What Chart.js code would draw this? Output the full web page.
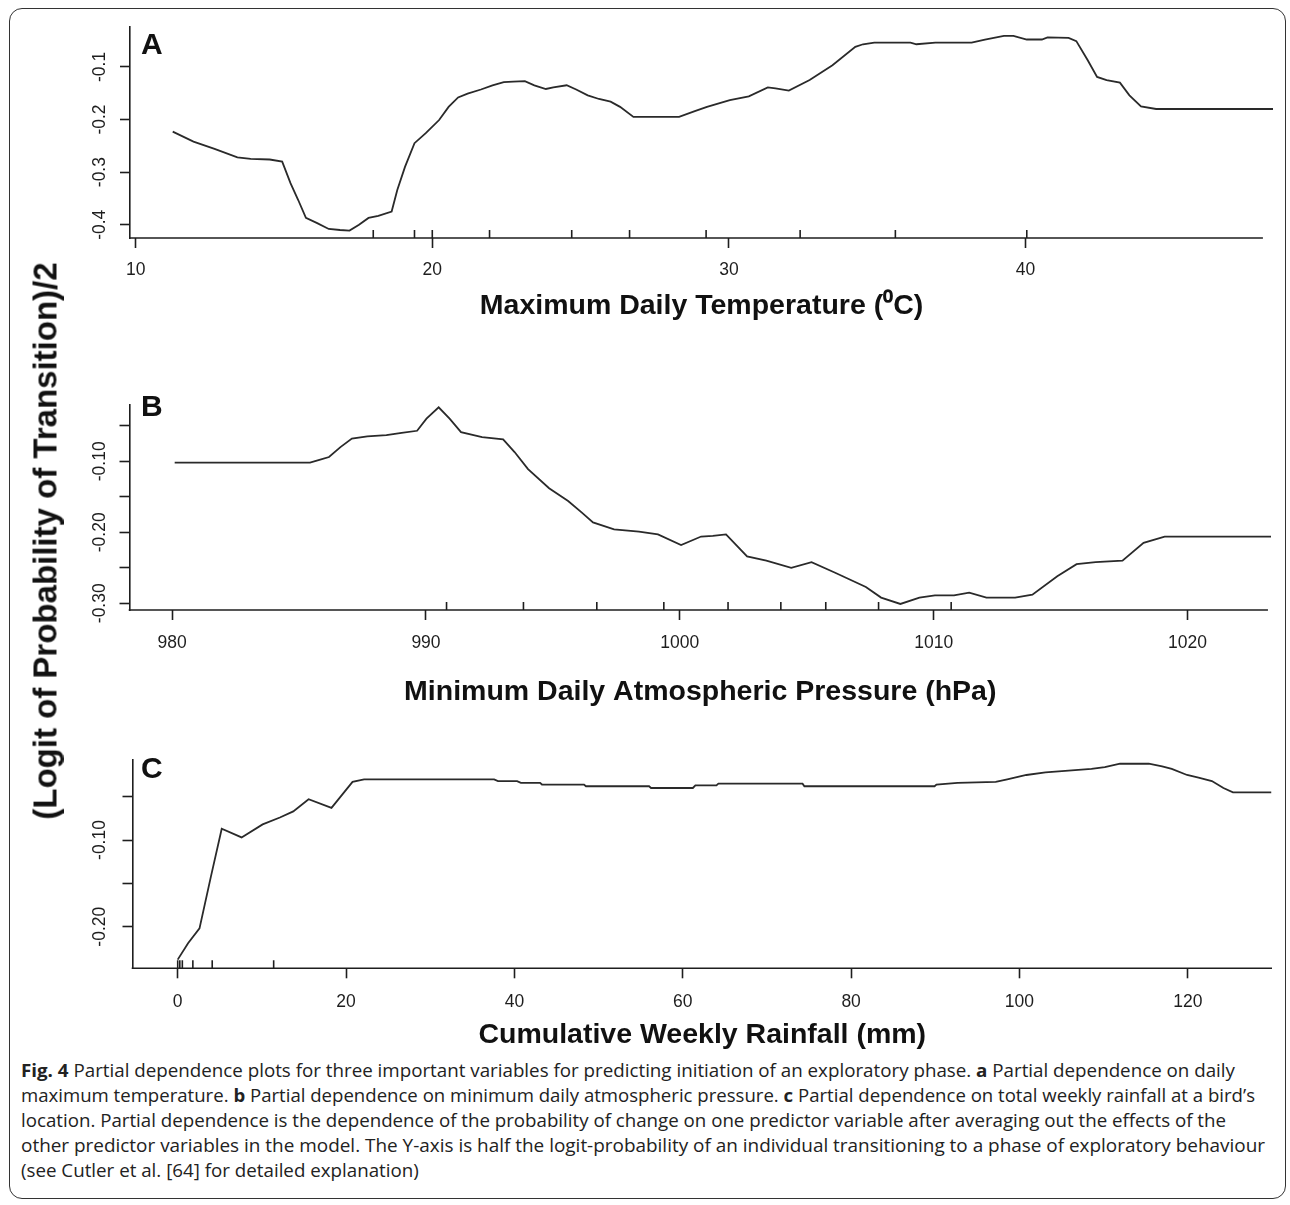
<!DOCTYPE html>
<html>
<head>
<meta charset="utf-8">
<script src="https://cdn.jsdelivr.net/npm/chart.js@4.4.1/dist/chart.umd.min.js"></script>
<style>
html,body{margin:0;padding:0;background:#fff;}
#page{position:relative;width:1290px;height:1205px;overflow:hidden;background:#fff;font-family:"Liberation Sans",Arial,sans-serif;}
#frame{position:absolute;left:9px;top:8px;width:1277px;height:1191px;border:1.6px solid #333;border-radius:13px;box-sizing:border-box;}
canvas{position:absolute;left:0;}
.plbl{position:absolute;font-weight:bold;font-size:30px;line-height:30px;color:#111;}
#ytitle{position:absolute;left:45px;top:541px;transform:translate(-50%,-50%) rotate(-90deg);white-space:nowrap;font-weight:bold;font-size:33px;line-height:33px;color:#111;}
#caption{position:absolute;left:21px;top:1058px;font-family:"Open Sans",sans-serif;font-size:18px;line-height:25px;color:#222;}
.cl{white-space:nowrap;transform-origin:0 0;width:max-content;}
.cl b{font-weight:700;}
</style>
</head>
<body>
<div id="page">
  <div id="frame"></div>
  <canvas id="cA"></canvas>
  <canvas id="cB"></canvas>
  <canvas id="cC"></canvas>
  <div class="plbl" style="left:141px;top:29px;">A</div>
  <div class="plbl" style="left:141px;top:391px;">B</div>
  <div class="plbl" style="left:141px;top:753px;">C</div>
  <div id="ytitle">(Logit of Probability of Transition)/2</div>
  <div id="caption">
    <div class="cl"><b>Fig. 4</b> Partial dependence plots for three important variables for predicting initiation of an exploratory phase. <b>a</b> Partial dependence on daily</div>
    <div class="cl">maximum temperature. <b>b</b> Partial dependence on minimum daily atmospheric pressure. <b>c</b> Partial dependence on total weekly rainfall at a bird’s</div>
    <div class="cl">location. Partial dependence is the dependence of the probability of change on one predictor variable after averaging out the effects of the</div>
    <div class="cl">other predictor variables in the model. The Y-axis is half the logit-probability of an individual transitioning to a phase of exploratory behaviour</div>
    <div class="cl">(see Cutler et al. [64] for detailed explanation)</div>
  </div>
</div>
<script>
// ---------------- DATA ----------------
// Panel A: Maximum daily temperature
const tempX = [11.25, 11.95, 12.66, 13.43, 13.88, 14.52, 14.94, 15.22, 15.48, 15.74, 16.12, 16.51, 16.89, 17.21, 17.53, 17.85, 18.18, 18.63, 18.82, 19.08, 19.40, 19.78, 20.23, 20.55, 20.87, 21.19, 21.64, 22.03, 22.41, 22.73, 23.12, 23.44, 23.83, 24.08, 24.53, 24.85, 25.24, 25.62, 26.01, 26.33, 26.78, 27.55, 28.32, 28.85, 29.26, 30.03, 30.67, 31.31, 31.57, 32.02, 32.72, 33.49, 34.26, 34.52, 34.90, 36.12, 36.32, 36.96, 38.18, 38.63, 39.27, 39.59, 40.04, 40.55, 40.74, 41.45, 41.71, 42.09, 42.41, 42.73, 43.18, 43.50, 43.89, 44.40, 48.34];
const tempY = [-0.223, -0.242, -0.256, -0.272, -0.275, -0.276, -0.280, -0.321, -0.353, -0.387, -0.397, -0.408, -0.410, -0.411, -0.400, -0.387, -0.383, -0.375, -0.334, -0.290, -0.245, -0.226, -0.201, -0.176, -0.158, -0.151, -0.143, -0.135, -0.129, -0.128, -0.127, -0.135, -0.142, -0.139, -0.135, -0.143, -0.154, -0.161, -0.166, -0.176, -0.195, -0.195, -0.195, -0.184, -0.176, -0.163, -0.156, -0.139, -0.141, -0.145, -0.125, -0.097, -0.062, -0.057, -0.054, -0.054, -0.057, -0.054, -0.054, -0.048, -0.041, -0.041, -0.048, -0.048, -0.044, -0.045, -0.051, -0.087, -0.119, -0.125, -0.130, -0.154, -0.175, -0.180, -0.180];
const tempRug = [18.01, 19.40, 20.0, 21.93, 24.70, 26.65, 29.23, 32.40, 35.61, 40.04];

// Panel B: Minimum daily atmospheric pressure
const presX = [980.1, 985.43, 985.80, 986.18, 986.63, 987.08, 987.69, 988.44, 989.04, 989.65, 990.02, 990.50, 990.93, 991.38, 992.21, 993.04, 993.49, 994.02, 994.85, 995.60, 996.13, 996.58, 997.41, 998.39, 999.14, 1000.05, 1000.84, 1001.30, 1001.82, 1002.65, 1003.41, 1004.39, 1005.19, 1006.12, 1007.33, 1007.93, 1008.69, 1009.44, 1010.05, 1010.80, 1011.40, 1012.08, 1013.21, 1013.89, 1014.87, 1015.63, 1016.38, 1017.44, 1018.27, 1019.10, 1023.29];
const presY = [-0.102, -0.102, -0.098, -0.094, -0.080, -0.068, -0.065, -0.063, -0.060, -0.057, -0.040, -0.024, -0.040, -0.059, -0.066, -0.069, -0.087, -0.111, -0.138, -0.156, -0.172, -0.186, -0.196, -0.199, -0.203, -0.218, -0.206, -0.205, -0.203, -0.234, -0.240, -0.250, -0.242, -0.257, -0.277, -0.292, -0.301, -0.292, -0.289, -0.289, -0.285, -0.292, -0.292, -0.288, -0.262, -0.245, -0.242, -0.240, -0.215, -0.206, -0.206];
const presRug = [990.81, 993.84, 996.73, 999.37, 1001.90, 1003.98, 1005.75, 1007.83, 1010.69];

// Panel C: Cumulative weekly rainfall
const rainX = [0, 1.23, 2.59, 3.95, 5.23, 7.59, 10.09, 12.14, 13.73, 15.55, 18.27, 20.77, 22.14, 37.59, 38.05, 40.32, 40.77, 43.05, 43.27, 48.27, 48.50, 56.00, 56.23, 61.2, 61.5, 64.0, 64.23, 74.23, 74.45, 89.91, 90.14, 92.64, 97.18, 98.55, 100.82, 103.09, 105.82, 108.55, 110.14, 111.95, 115.36, 116.95, 118.09, 119.91, 121.27, 122.86, 124.23, 125.36, 129.91];
const rainY = [-0.238, -0.219, -0.202, -0.142, -0.087, -0.097, -0.082, -0.074, -0.067, -0.053, -0.063, -0.033, -0.030, -0.030, -0.032, -0.032, -0.034, -0.034, -0.036, -0.036, -0.038, -0.038, -0.040, -0.040, -0.037, -0.037, -0.035, -0.035, -0.038, -0.038, -0.036, -0.034, -0.033, -0.030, -0.025, -0.022, -0.020, -0.018, -0.016, -0.012, -0.012, -0.015, -0.018, -0.025, -0.028, -0.032, -0.040, -0.045, -0.045];
const rainRug = [0, 0.25, 0.55, 1.8, 4.1, 11.4];

// Tick labels
const tempYLabels = [-0.4, -0.3, -0.2, -0.1];
const presYLabels = [-0.30, -0.20, -0.10];
const rainYLabels = [-0.20, -0.10];

// Axis titles
const titleA = 'Maximum Daily Temperature (\u2070C)';
const titleB = 'Minimum Daily Atmospheric Pressure (hPa)';
const titleC = 'Cumulative Weekly Rainfall (mm)';

// ---------------- LAYOUT / STYLE ----------------
const FONT = '"Liberation Sans", Arial, sans-serif';
const INK = '#1e1e1e';
const TICK = 10;
const LABEL_CX = 100;   // centre of rotated y tick labels
const TICK_FS = 17.5;

Chart.defaults.font.family = FONT;
Chart.defaults.color = INK;

const xAxisLine = {
  id: 'xAxisLine',
  beforeDatasetsDraw(chart, args, opts) {
    const {ctx, chartArea, scales} = chart;
    ctx.save();
    ctx.strokeStyle = opts.color;
    ctx.lineWidth = opts.width;
    ctx.beginPath();
    ctx.moveTo(chartArea.left - opts.width / 2, chartArea.bottom);
    ctx.lineTo(scales.x.getPixelForValue(opts.end), chartArea.bottom);
    ctx.stroke();
    ctx.restore();
  }
};

function buildPanel(p) {
  const cv = document.getElementById(p.id);
  cv.width = 1290; cv.height = p.canvasH;
  cv.style.width = '1290px'; cv.style.height = p.canvasH + 'px';
  cv.style.top = p.canvasTop + 'px';
  const m = cv.getContext('2d');
  m.font = TICK_FS + 'px ' + FONT;
  let widest = 0;
  p.yLabels.forEach(v => { widest = Math.max(widest, m.measureText(v.toFixed(p.yDec)).width); });
  const yPad = p.yAxisW - TICK - LABEL_CX - widest / 2;
  const line = p.xs.map((x, i) => ({x: x, y: p.ys[i]}));
  const rug = p.rug.map(x => ({x: x, y: p.yMin}));
  new Chart(cv, {
    type: 'scatter',
    data: {
      datasets: [
        {data: line, showLine: true, borderColor: '#2a2a2a', borderWidth: 1.8, pointRadius: 0, pointHoverRadius: 0, tension: 0},
        {data: rug, showLine: false, pointStyle: 'line', pointRotation: 90, pointRadius: 8, pointHoverRadius: 8,
         pointBorderColor: INK, pointBorderWidth: 1.6, clip: 0}
      ]
    },
    options: {
      responsive: false, animation: false, events: [],
      layout: {padding: {top: p.padTop, right: p.padRight, left: 0, bottom: 0}},
      plugins: {legend: {display: false}, tooltip: {enabled: false}, xAxisLine: {end: p.xEnd, color: INK, width: 1.6}},
      scales: {
        x: {
          type: 'linear', min: p.xMin, max: p.xMax,
          border: {display: false},
          grid: {display: true, drawOnChartArea: false, drawTicks: true, tickLength: TICK, tickWidth: 1.6, tickColor: INK},
          ticks: {stepSize: p.xStep, includeBounds: false, autoSkip: false, maxRotation: 0, minRotation: 0,
                  padding: p.xPad, color: INK, font: {size: TICK_FS}, callback: v => String(v)},
          title: {display: true, text: p.title, color: '#111', padding: 0, font: {size: 28.5, weight: 'bold'}},
          afterFit: s => { s.height = p.xAxisH; }
        },
        y: {
          type: 'linear', min: p.yMin, max: p.yMax,
          border: {display: true, color: INK, width: 1.6},
          grid: {display: true, drawOnChartArea: false, drawTicks: true, tickLength: TICK, tickWidth: 1.6, tickColor: INK},
          ticks: {stepSize: p.yStep, includeBounds: false, autoSkip: false, minRotation: 90, maxRotation: 90,
                  crossAlign: 'center', padding: yPad, color: INK, font: {size: TICK_FS},
                  callback: v => (p.yLabels.some(l => Math.abs(l - v) < 1e-9) ? v.toFixed(p.yDec) : '')},
          afterFit: s => { s.width = p.yAxisW; }
        }
      }
    },
    plugins: [xAxisLine]
  });
}

buildPanel({id: 'cA', canvasTop: 0, canvasH: 323, padTop: 27, xAxisH: 85, yAxisW: 130, padRight: 17, xPad: 12,
  xMin: 9.81, xMax: 48.34, xStep: 10, xEnd: 48.0, yMin: -0.4252, yMax: -0.0242, yStep: 0.1,
  yLabels: tempYLabels, yDec: 1, xs: tempX, ys: tempY, rug: tempRug, title: titleA});
buildPanel({id: 'cB', canvasTop: 340, canvasH: 369, padTop: 65, xAxisH: 99, yAxisW: 129.5, padRight: 19, xPad: 13,
  xMin: 978.32, xMax: 1023.29, xStep: 10, xEnd: 1023.17, yMin: -0.3095, yMax: -0.0207, yStep: 0.05,
  yLabels: presYLabels, yDec: 2, xs: presX, ys: presY, rug: presRug, title: titleB});
buildPanel({id: 'cC', canvasTop: 720, canvasH: 332, padTop: 40, xAxisH: 83.7, yAxisW: 132.5, padRight: 18, xPad: 13,
  xMin: -5.37, xMax: 130, xStep: 20, xEnd: 130, yMin: -0.248, yMax: -0.0077, yStep: 0.05,
  yLabels: rainYLabels, yDec: 2, xs: rainX, ys: rainY, rug: rainRug, title: titleC});

// caption lines: condense each to the measured line width of the reference
const capTargets = [1214, 1234, 1205, 1244];
const lines = document.querySelectorAll('#caption .cl');
let sum = 0;
lines.forEach((el, i) => {
  const w = el.getBoundingClientRect().width;
  let s;
  if (i < capTargets.length) { s = capTargets[i] / w; sum += s; }
  else { s = sum / capTargets.length; }
  el.style.transform = 'scaleX(' + s.toFixed(4) + ')';
});
</script>
</body>
</html>
